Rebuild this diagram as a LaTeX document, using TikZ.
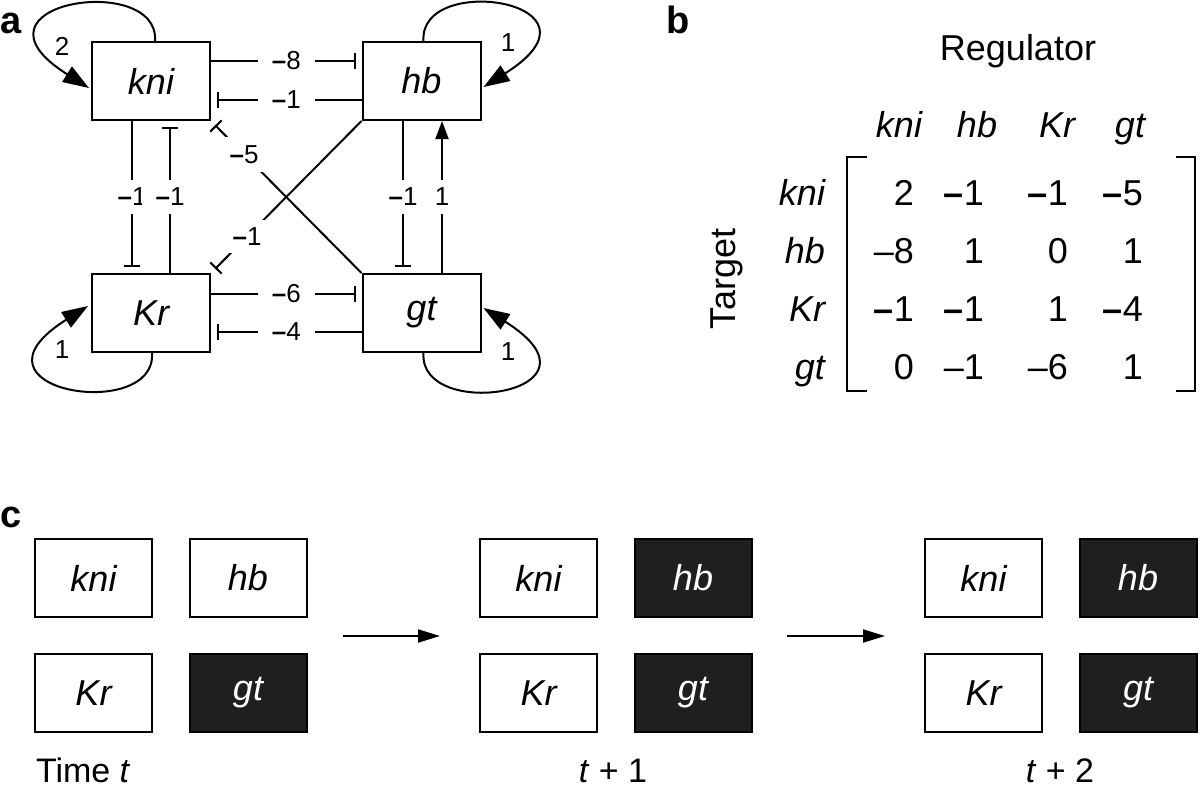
\documentclass[tikz,border=0pt]{standalone}
\usepackage{fontspec}
\setmainfont{Liberation Sans}
\usetikzlibrary{arrows.meta}
\newcommand\bdash{\textbf{–}}

\begin{document}
\begin{tikzpicture}[x=0.5pt,y=-0.5pt,line width=1pt,
genebox/.style={draw,minimum width=59pt,minimum height=39pt,inner sep=0pt,font=\fontsize{18}{21}\selectfont\itshape},
statebox/.style={draw,minimum width=58.5pt,minimum height=39pt,inner sep=0pt,font=\fontsize{18}{21}\selectfont\itshape},
inhib/.style={-{Bar[width=8pt]},shorten >=3pt},
activ/.style={-{Triangle[length=9pt,width=6.5pt]}},
selfloop/.style={-{Triangle[length=13pt,width=9pt]}},
weight/.style={fill=white,inner xsep=7pt,inner ysep=4pt,font=\fontsize{13}{15}\selectfont},
loopweight/.style={inner sep=0pt,font=\fontsize{13}{15}\selectfont},
panel/.style={anchor=base west,inner sep=0pt,font=\fontsize{19}{22}\selectfont\bfseries},
entry/.style={anchor=base east,inner sep=0pt,font=\fontsize{18}{21}\selectfont},
gene/.style={inner sep=0pt,font=\fontsize{18}{21}\selectfont\itshape},
timelabel/.style={anchor=base,inner sep=0pt,font=\fontsize{17}{20}\selectfont},
steparrow/.style={-{Triangle[length=11pt,width=6.5pt]}}]
\useasboundingbox (0,0) rectangle (1200,788);
\node (pa) at (0,33) [panel] {a};
\node (pb) at (665,33) [panel] {b};
\node (pc) at (0,527) [panel] {c};
\node (kni) at (151,81) [genebox] {kni};
\node (hb) at (421.5,81) [genebox] {hb};
\node (Kr) at (151,313) [genebox] {Kr};
\node (gt) at (421.5,313) [genebox] {gt};
\draw[inhib] ([yshift=10pt]kni.east) -- node[weight] {\bdash 8} ([yshift=10pt]hb.west);
\draw[inhib] ([yshift=-9.5pt]hb.west) -- node[weight] {\bdash 1} ([yshift=-9.5pt]kni.east);
\draw[inhib] ([yshift=9.5pt]Kr.east) -- node[weight] {\bdash 6} ([yshift=9.5pt]gt.west);
\draw[inhib] ([yshift=-9.5pt]gt.west) -- node[weight] {\bdash 4} ([yshift=-9.5pt]Kr.east);
\draw[inhib] ([xshift=-9.5pt]kni.south) -- node[weight] {\bdash 1} ([xshift=-9.5pt]Kr.north);
\draw[inhib] ([xshift=9.5pt]Kr.north) -- node[weight] {\bdash 1} ([xshift=9.5pt]kni.south);
\draw[inhib] ([xshift=-9.25pt]hb.south) -- node[weight] {\bdash 1} ([xshift=-9.25pt]gt.north);
\draw[activ] ([xshift=10.25pt]gt.north) -- node[weight] {1} ([xshift=10.25pt]hb.south);
\draw[inhib] (gt.north west) -- node[weight,pos=0.78] {\bdash 5} (kni.south east);
\draw[inhib] (hb.south west) -- node[weight,pos=0.76] {\bdash 1} (Kr.north east);
\draw[selfloop] ([xshift=2pt]kni.north) .. controls +(5,-70) and +(-135,-85) .. ([xshift=-1pt,yshift=-3.5pt]kni.west);
\draw[selfloop] ([xshift=1pt]hb.north) .. controls +(-5,-70) and +(135,-85) .. ([xshift=1pt,yshift=-3pt]hb.east);
\draw[selfloop] ([xshift=0.5pt]Kr.south) .. controls +(5,70) and +(-135,85) .. ([xshift=-1.5pt,yshift=3.5pt]Kr.west);
\draw[selfloop] ([xshift=1pt]gt.south) .. controls +(-5,70) and +(135,85) .. ([xshift=1pt,yshift=2.5pt]gt.east);
\node (wkni) at (62,46) [loopweight] {2};
\node (whb) at (508,43) [loopweight] {1};
\node (wKr) at (62,350) [loopweight] {1};
\node (wgt) at (508,352) [loopweight] {1};
\node (reg) at (1018,60) [anchor=base,inner sep=0pt,font=\fontsize{18}{21}\selectfont] {Regulator};
\node (target) at (727,279) [rotate=90,inner sep=0pt,font=\fontsize{18}{21}\selectfont] {Target};
\foreach \name/\x in {kni/899,hb/977,Kr/1057,gt/1130}
  \node (col\name) at (\x,137) [gene,anchor=base] {\name};
\foreach \name/\y in {kni/205,hb/263,Kr/321,gt/379}
  \node (row\name) at (826,\y) [gene,anchor=base east] {\name};
\foreach \v/\x [count=\c] in {2/915,\bdash1/985,\bdash1/1069,\bdash5/1144}
  \node (wkni\c) at (\x,205) [entry] {\v};
\foreach \v/\x [count=\c] in {–8/915,1/985,0/1069,1/1144}
  \node (whb\c) at (\x,263) [entry] {\v};
\foreach \v/\x [count=\c] in {\bdash1/915,\bdash1/985,1/1069,\bdash4/1144}
  \node (wKr\c) at (\x,321) [entry] {\v};
\foreach \v/\x [count=\c] in {0/915,–1/985,–6/1069,1/1144}
  \node (wgt\c) at (\x,379) [entry] {\v};
\draw (867,157) -- (847,157) -- (847,391) -- (867,391);
\draw (1176,157) -- (1195,157) -- (1195,391) -- (1176,391);
\foreach \g/\dx/\hbfill/\hbtext in {1/0/white/black,2/445/black!88/white,3/890/black!88/white} {
  \node (ckni\g) at (93.5+\dx,578) [statebox] {kni};
  \node (chb\g) at (248+\dx,578) [statebox,fill=\hbfill,text=\hbtext] {hb};
  \node (cKr\g) at (93.5+\dx,693) [statebox] {Kr};
  \node (cgt\g) at (248+\dx,693) [statebox,fill=black!88,text=white] {gt};
}
\coordinate (go1) at (343,636);
\coordinate (to1) at (440,636);
\coordinate (go2) at (787,636);
\coordinate (to2) at (885,636);
\draw[steparrow] (go1) -- (to1);
\draw[steparrow] (go2) -- (to2);
\node (tnow) at (35,782) [timelabel,anchor=base west] {Time \textit{t}};
\node (tnext) at (613,782) [timelabel] {\textit{t} + 1};
\node (tlast) at (1060,782) [timelabel] {\textit{t} + 2};
\end{tikzpicture}
\end{document}
